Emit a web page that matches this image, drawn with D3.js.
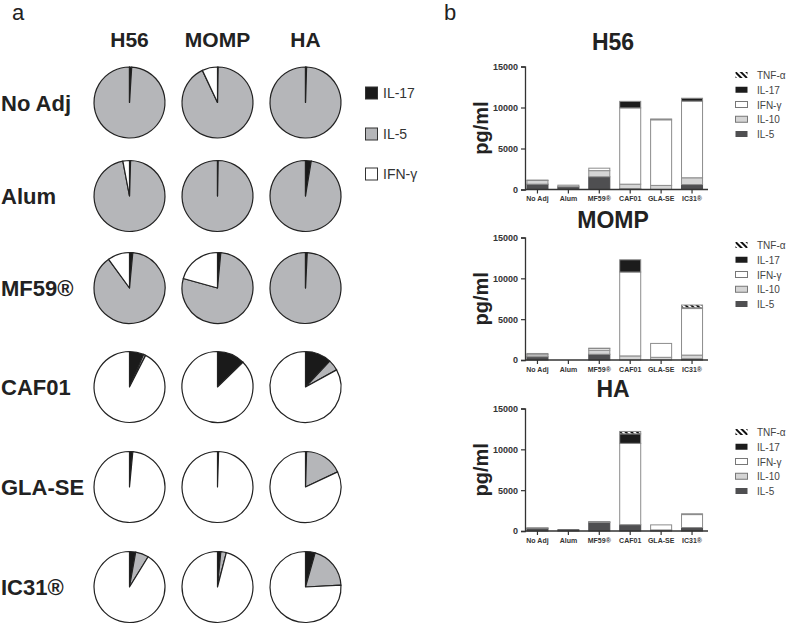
<!DOCTYPE html>
<html><head><meta charset="utf-8">
<script src="https://cdn.jsdelivr.net/npm/d3@7"></script>
<style>body{margin:0;background:#fff}svg{display:block}text{font-family:"Liberation Sans",Arial,sans-serif}</style>
</head><body>
<svg id="c" width="787" height="624"></svg>
<script>
// ---------- Panel a data (percent of IL-17, IL-5, IFN-γ) ----------
const pieCols = ["H56", "MOMP", "HA"];
const pieRows = ["No Adj", "Alum", "MF59®", "CAF01", "GLA-SE", "IC31®"];
const pieKeys = ["IL-17", "IL-5", "IFN-γ"];
const pieH56  = [[1, 99, 0], [0.5, 96.5, 3], [1.5, 88.5, 10], [6.5, 1, 92.5], [1.5, 0, 98.5], [2.8, 6, 91.2]];
const pieMOMP = [[0.3, 92.7, 7], [0.3, 99.7, 0], [1.5, 77.8, 20.7], [12.7, 0, 87.3], [0.5, 0, 99.5], [1.5, 2.5, 96]];
const pieHA   = [[0.5, 99.5, 0], [2.6, 97.4, 0], [0.8, 99.2, 0], [12, 5, 83], [0.5, 17.5, 82], [4.4, 19.8, 75.8]];

// ---------- Panel b data (pg/ml) ----------
const barCats = ["No Adj", "Alum", "MF59®", "CAF01", "GLA-SE", "IC31®"];
const barKeys = ["IL-5", "IL-10", "IFN-γ", "IL-17", "TNF-α"];
const yTicks = [0, 5000, 10000, 15000];
const h56_IL5   = [650, 330, 1550, 100, 0, 600];
const h56_IL10  = [450, 200, 750, 550, 500, 830];
const h56_IFNg  = [50, 0, 300, 9300, 8000, 9350];
const h56_IL17  = [0, 0, 0, 800, 100, 350];
const h56_TNFa  = [0, 0, 0, 0, 0, 0];
const momp_IL5  = [400, 0, 700, 0, 0, 150];
const momp_IL10 = [250, 0, 500, 500, 330, 450];
const momp_IFNg = [150, 0, 220, 10270, 1700, 5700];
const momp_IL17 = [0, 0, 20, 1500, 0, 100];
const momp_TNFa = [0, 0, 0, 0, 0, 330];
const ha_IL5    = [350, 150, 1050, 770, 130, 420];
const ha_IL10   = [30, 0, 80, 0, 0, 0];
const ha_IFNg   = [0, 0, 0, 9960, 620, 1590];
const ha_IL17   = [0, 0, 10, 1170, 0, 90];
const ha_TNFa   = [0, 0, 0, 290, 0, 0];

const svg = d3.select("#c");
const defs = svg.append("defs");
const pat = defs.append("pattern").attr("id", "hatch").attr("patternUnits", "userSpaceOnUse")
  .attr("width", 4).attr("height", 4).attr("patternTransform", "rotate(-45)");
pat.append("rect").attr("width", 4).attr("height", 4).attr("fill", "#fff");
pat.append("rect").attr("width", 2).attr("height", 4).attr("fill", "#111");

// ================= PANEL A =================
svg.append("text").attr("x", 12).attr("y", 20).attr("font-size", 22).attr("fill", "#222").text("a");
const pieColor = d3.scaleOrdinal().domain(pieKeys).range(["#1a1a1a", "#b5b6b9", "#ffffff"]);
const colX = d3.scaleOrdinal().domain(pieCols).range([129.5, 217.5, 305.5]);
const rowY = d3.scaleOrdinal().domain(pieRows).range([102.5, 196, 288, 387, 487, 587]);
const pieData = {H56: pieH56, MOMP: pieMOMP, HA: pieHA};
const pie = d3.pie().sort(null).value(d => d.v);
const arc = d3.arc().innerRadius(0).outerRadius(35.5);

pieCols.forEach(c => {
  svg.append("text").attr("x", colX(c)).attr("y", 47).attr("text-anchor", "middle")
    .attr("font-size", 21).attr("font-weight", "bold").attr("fill", "#222").text(c);
});
pieRows.forEach((r, i) => {
  svg.append("text").attr("x", 1).attr("y", rowY(r) + 8).attr("font-size", 22)
    .attr("font-weight", "bold").attr("fill", "#222").text(r);
  pieCols.forEach(c => {
    const vals = pieData[c][i].map((v, k) => ({k: pieKeys[k], v}));
    const g = svg.append("g").attr("transform", `translate(${colX(c)},${rowY(r)})`);
    g.selectAll("path").data(pie(vals)).join("path")
      .attr("d", arc).attr("fill", d => pieColor(d.data.k))
      .attr("stroke", "#222").attr("stroke-width", 1.2).attr("stroke-linejoin", "round");
  });
});
const legA = d3.scaleOrdinal().domain(pieKeys).range([93, 134, 174]);
pieKeys.forEach(k => {
  svg.append("rect").attr("x", 365.5).attr("y", legA(k) - 6).attr("width", 12).attr("height", 12)
    .attr("fill", pieColor(k)).attr("stroke", "#333").attr("stroke-width", 1);
  svg.append("text").attr("x", 383).attr("y", legA(k) + 5).attr("font-size", 14).attr("fill", "#333").text(k);
});

// ================= PANEL B =================
svg.append("text").attr("x", 444).attr("y", 20).attr("font-size", 22).attr("fill", "#222").text("b");
const barColor = d3.scaleOrdinal().domain(barKeys).range(["#4f4f51", "#d5d5d5", "#ffffff", "#1c1c1c", "url(#hatch)"]);
const charts = [
  {name: "H56", y0: 189.5, y15: 66.5, titleY: 50, legY: 75,
   series: {"IL-5": h56_IL5, "IL-10": h56_IL10, "IFN-γ": h56_IFNg, "IL-17": h56_IL17, "TNF-α": h56_TNFa}},
  {name: "MOMP", y0: 360, y15: 237.5, titleY: 228, legY: 245,
   series: {"IL-5": momp_IL5, "IL-10": momp_IL10, "IFN-γ": momp_IFNg, "IL-17": momp_IL17, "TNF-α": momp_TNFa}},
  {name: "HA", y0: 531, y15: 408.5, titleY: 397, legY: 432,
   series: {"IL-5": ha_IL5, "IL-10": ha_IL10, "IFN-γ": ha_IFNg, "IL-17": ha_IL17, "TNF-α": ha_TNFa}}
];
const x = d3.scaleBand().domain(barCats).range([522, 707.5]).paddingInner(0.32).paddingOuter(0.16);
const axisX0 = 525, axisX1 = 708;

charts.forEach(ch => {
  const y = d3.scaleLinear().domain([0, 15000]).range([ch.y0, ch.y15]);
  const rows = barCats.map((c, i) => {
    const o = {cat: c};
    barKeys.forEach(k => o[k] = ch.series[k][i]);
    return o;
  });
  const stacked = d3.stack().keys(barKeys)(rows);
  const g = svg.append("g");
  stacked.forEach(layer => {
    g.append("g").selectAll("rect").data(layer.filter(d => d[1] - d[0] > 0)).join("rect")
      .attr("x", d => x(d.data.cat)).attr("width", x.bandwidth())
      .attr("y", d => y(d[1])).attr("height", d => y(d[0]) - y(d[1]))
      .attr("fill", barColor(layer.key))
      .attr("stroke", layer.key === "IL-5" ? "#4a4a4c" : "#8c8c8c").attr("stroke-width", 1);
  });
  // y axis
  const ya = svg.append("g").attr("transform", `translate(${axisX0},0)`)
    .call(d3.axisLeft(y).tickValues(yTicks).tickFormat(d3.format("d")).tickSize(4).tickPadding(3));
  ya.select(".domain").attr("stroke", "#333").attr("stroke-width", 1.3);
  ya.selectAll(".tick line").attr("stroke", "#333").attr("stroke-width", 1.2);
  ya.selectAll("text").attr("font-size", 9).attr("font-weight", "bold").attr("fill", "#333")
    .attr("font-family", "Liberation Sans, Arial, sans-serif");
  // x axis
  const xa = svg.append("g").attr("transform", `translate(0,${ch.y0})`)
    .call(d3.axisBottom(x).tickSize(4).tickSizeOuter(0).tickPadding(3));
  xa.select(".domain").attr("d", `M${axisX0},0H${axisX1}`).attr("stroke", "#333").attr("stroke-width", 1.3);
  xa.selectAll(".tick line").attr("stroke", "#333").attr("stroke-width", 1.2);
  xa.selectAll("text").attr("font-size", 7).attr("font-weight", "bold").attr("fill", "#333")
    .attr("font-family", "Liberation Sans, Arial, sans-serif");
  // title
  svg.append("text").attr("x", 613).attr("y", ch.titleY).attr("text-anchor", "middle")
    .attr("font-size", 23).attr("font-weight", "bold").attr("fill", "#222").text(ch.name);
  // y label
  svg.append("text").attr("transform", `translate(488,${(ch.y0 + ch.y15) / 2}) rotate(-90)`)
    .attr("text-anchor", "middle").attr("font-size", 20).attr("font-weight", "bold").attr("fill", "#222").text("pg/ml");
  // legend
  const legKeys = barKeys.slice().reverse();
  const ly = d3.scalePoint().domain(legKeys).range([ch.legY, ch.legY + 59]);
  legKeys.forEach(k => {
    svg.append("rect").attr("x", 735.5).attr("y", ly(k) - 3).attr("width", 12).attr("height", 6)
      .attr("fill", barColor(k)).attr("stroke", k === "IFN-γ" || k === "IL-10" ? "#777" : "none");
    svg.append("text").attr("x", 757).attr("y", ly(k) + 4).attr("font-size", 10).attr("fill", "#444").text(k);
  });
});
</script>
</body></html>
